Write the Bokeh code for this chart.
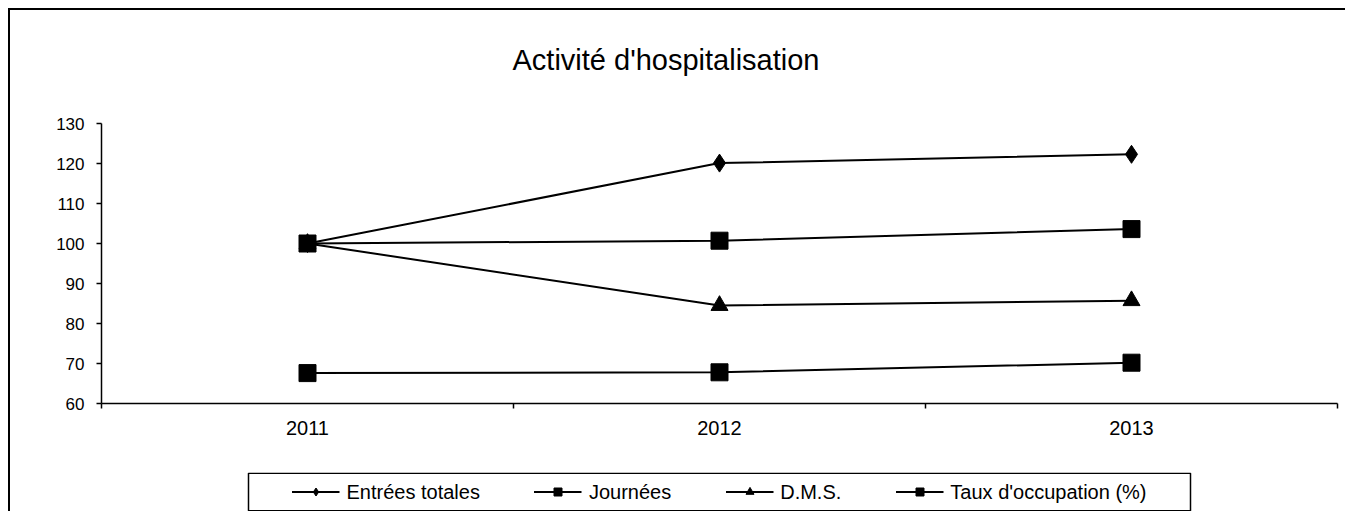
from bokeh.plotting import figure
from bokeh.models import Range1d, FixedTicker, Legend, LegendItem, Label
from bokeh.layouts import column
from bokeh.embed import file_html
from bokeh.resources import INLINE

# ---- data ----
years = ["2011", "2012", "2013"]
entrees = [100, 120.1, 122.3]
journees = [100, 100.7, 103.6]
dms = [100, 84.5, 85.7]
taux = [67.6, 67.8, 70.2]
y_ticks = [60, 70, 80, 90, 100, 110, 120, 130]
title_text = "Activité d'hospitalisation"

FONT = "Liberation Sans"
W = 1335
BL, BR = 91, 8          # shared left/right borders (frames are aligned in a column)
xs = [i + 0.5 for i in range(len(years))]


def bare(fig):
    fig.title.visible = False
    fig.outline_line_color = None
    fig.xgrid.visible = False
    fig.ygrid.visible = False
    fig.background_fill_color = "white"
    fig.border_fill_color = "white"


# ---- title strip (ranges = page pixel coordinates) ----
tf = figure(width=W, height=101, output_backend="svg", toolbar_location=None,
            x_range=Range1d(101, 1337), y_range=Range1d(111, 10),
            x_axis_type=None, y_axis_type=None,
            min_border_left=BL, min_border_right=BR, min_border_top=0,
            min_border_bottom=0)
bare(tf)
tf.add_layout(Label(x=512, y=59, text=title_text, text_font=FONT,
                    text_font_size="29px", text_color="black",
                    text_align="left", text_baseline="alphabetic"))

# ---- main chart ----
p = figure(width=W, height=347, output_backend="svg", toolbar_location=None,
           x_range=Range1d(0, len(years)), y_range=Range1d(y_ticks[0], y_ticks[-1]),
           min_border_left=BL, min_border_right=BR, min_border_top=12,
           min_border_bottom=55)
bare(p)

ya = p.yaxis[0]
ya.ticker = FixedTicker(ticks=y_ticks, minor_ticks=[])
ya.major_tick_in = 0
ya.major_tick_out = 5
ya.axis_line_color = "black"
ya.axis_line_width = 1.5
ya.major_tick_line_color = "black"
ya.major_tick_line_width = 1.5
ya.major_label_text_font = FONT
ya.major_label_text_font_size = "17px"
ya.major_label_text_color = "black"
ya.major_label_standoff = 12

xa = p.xaxis[0]
xa.ticker = FixedTicker(ticks=xs, minor_ticks=list(range(len(years) + 1)))
xa.major_label_overrides = {x: y for x, y in zip(xs, years)}
xa.major_tick_in = 0
xa.major_tick_out = 0
xa.minor_tick_in = 0
xa.minor_tick_out = 5
xa.minor_tick_line_color = "black"
xa.minor_tick_line_width = 1.5
xa.axis_line_color = "black"
xa.axis_line_width = 1.5
xa.major_label_text_font = FONT
xa.major_label_text_font_size = "20px"
xa.major_label_text_color = "black"
xa.major_label_standoff = 12

series = [
    ("Entrées totales", entrees, "diamond", 18),
    ("Journées", journees, "square", 17),
    ("D.M.S.", dms, "triangle", 17),
    ("Taux d'occupation (%)", taux, "square", 17),
]
for name, vals, mk, sz in series:
    p.line(xs, vals, line_color="black", line_width=2)
for name, vals, mk, sz in [series[0], series[2], series[1], series[3]]:
    p.scatter(xs, vals, marker=mk, size=sz, fill_color="black", line_color="black")

# ---- legend strip (ranges = page pixel coordinates) ----
lg = figure(width=W, height=53, output_backend="svg", toolbar_location=None,
            x_range=Range1d(101, 1337), y_range=Range1d(511, 472),
            x_axis_type=None, y_axis_type=None,
            min_border_left=BL, min_border_right=BR, min_border_top=14,
            min_border_bottom=0)
bare(lg)
# legend box
lg.quad(left=248, right=1190, top=472.8, bottom=510.2, fill_color=None,
        line_color="black", line_width=1.5)
items = []
for name, vals, mk, sz in series:
    # same series data; it lies outside this strip's ranges, only the keys show
    r1 = lg.line(xs, vals, line_color="black", line_width=2)
    r2 = lg.scatter(xs, vals, marker=mk, size=sz, fill_color="black",
                    line_color="black")
    items.append(LegendItem(label=name, renderers=[r1, r2]))
legend = Legend(items=items, orientation="horizontal", location="center")
legend.label_text_font = FONT
legend.label_text_font_size = "20px"
legend.label_text_color = "black"
legend.glyph_width = 48
legend.glyph_height = 20
legend.label_standoff = 7
legend.spacing = 54
legend.padding = 4
legend.margin = 0
legend.border_line_color = None
legend.background_fill_alpha = 0
lg.add_layout(legend, "center")

layout = column(tf, p, lg, spacing=0)
layout.styles = {"border-left": "2px solid black", "border-top": "2px solid black",
                 "margin-left": "8px", "margin-top": "8px"}

open("out.html", "w").write(file_html(layout, INLINE))
